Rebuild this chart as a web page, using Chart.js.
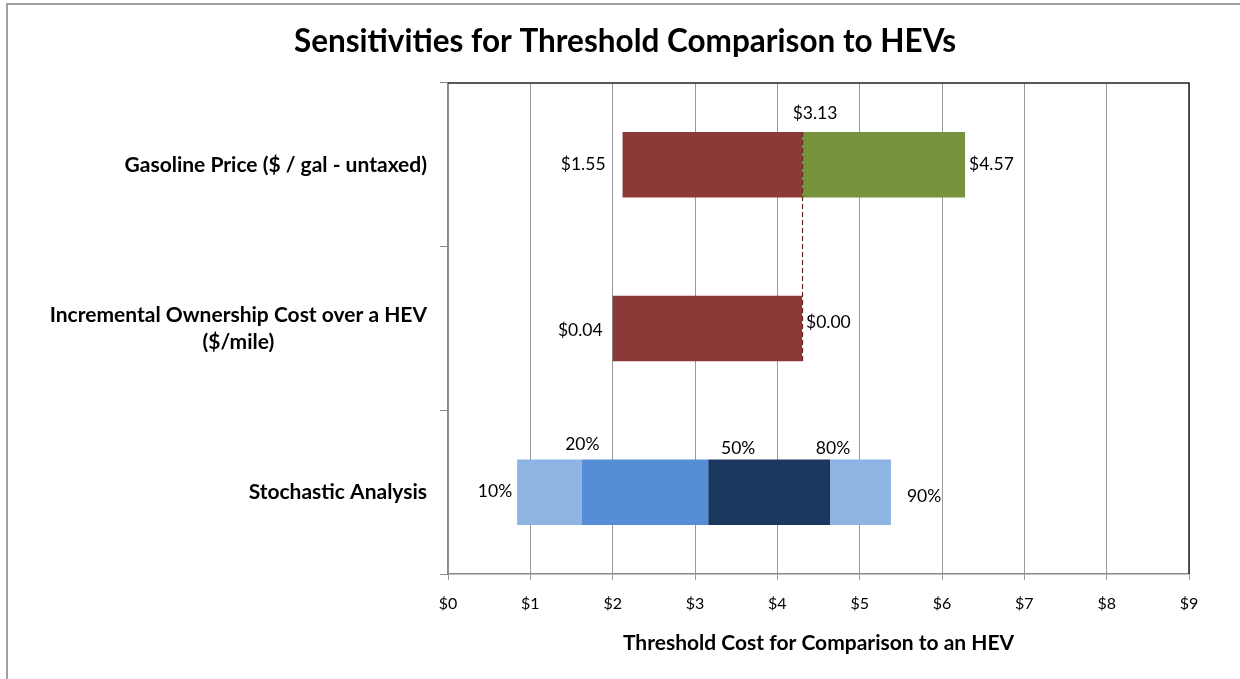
<!DOCTYPE html>
<html>
<head>
<meta charset="utf-8">
<script src="https://cdn.jsdelivr.net/npm/chart.js@4"></script>
<style>
  html, body { margin: 0; padding: 0; background: #fff; }
  #wrap { width: 1240px; height: 679px; }
</style>
</head>
<body>
<div id="wrap"><canvas id="myChart" width="1240" height="679"></canvas></div>
<script>
const categories = [
  'Gasoline Price ($ / gal - untaxed)',
  ['Incremental Ownership Cost over a HEV', '($/mile)'],
  'Stochastic Analysis',
];
const xTicks = [0, 1, 2, 3, 4, 5, 6, 7, 8, 9];
const baseline = 4.30;
const lowEnd = [2.12, 2.00, null];
const highEnd = [6.28, null, null];
const gasolineLabels = ['$1.55', '$3.13', '$4.57'];
const ownershipLabels = ['$0.04', '$0.00'];
const percentiles = ['10%', '20%', '50%', '80%', '90%'];
const percentileCosts = [0.84, 1.62, 3.16, 4.64, 5.38];

const red = '#8C3A38';
const green = '#76923C';
const blues = ['#8EB4E3', '#558ED5', '#1B3760', '#8EB4E3'];
const labelFont = '17.5px Lato';
const catFont = 'bold 21px Lato';

const datasets = [
  {
    label: 'Low',
    data: lowEnd.map(v => (v == null ? null : [v, baseline])),
    backgroundColor: red,
  },
  {
    label: 'High',
    data: highEnd.map(v => (v == null ? null : [baseline, v])),
    backgroundColor: green,
  },
];
for (let i = 0; i < 4; i++) {
  datasets.push({
    label: percentiles[i] + '-' + percentiles[i + 1],
    data: [null, null, [percentileCosts[i], percentileCosts[i + 1]]],
    backgroundColor: blues[i],
  });
}

// frame, dashed baseline, category names and value labels
const extras = {
  id: 'extras',
  beforeDraw(chart) {
    const c = chart.ctx;
    c.save();
    c.strokeStyle = '#A0A0A0';
    c.lineWidth = 2;
    c.beginPath();
    c.moveTo(7, 679);
    c.lineTo(7, 4);
    c.lineTo(1240, 4);
    c.stroke();
    c.restore();
  },
  afterDatasetsDraw(chart) {
    const c = chart.ctx;
    const xs = chart.scales.x;
    const ys = chart.scales.y;
    const a = chart.chartArea;
    const bx = xs.getPixelForValue(baseline);
    c.save();

    // plot frame top / right
    c.strokeStyle = '#222';
    c.lineWidth = 1.5;
    c.beginPath();
    c.moveTo(a.left, a.top);
    c.lineTo(a.right, a.top);
    c.lineTo(a.right, a.bottom);
    c.stroke();

    // dashed baseline
    const half = ys.getPixelForValue(1) - ys.getPixelForValue(0);
    const barH = half * 0.4 / 2;
    c.strokeStyle = '#6E2422';
    c.lineWidth = 1.2;
    c.setLineDash([5, 3]);
    c.beginPath();
    c.moveTo(bx + 0.5, ys.getPixelForValue(0) - barH);
    c.lineTo(bx + 0.5, ys.getPixelForValue(1) + barH);
    c.stroke();
    c.setLineDash([]);

    // category names
    c.fillStyle = '#000';
    c.font = catFont;
    c.textBaseline = 'middle';
    c.textAlign = 'center';
    categories.forEach((cat, i) => {
      const lines = Array.isArray(cat) ? cat : [cat];
      const w = Math.max(...lines.map(l => c.measureText(l).width));
      const cx = a.left - 21 - w / 2;
      const y0 = ys.getPixelForValue(i) - (lines.length - 1) * 13.5;
      lines.forEach((l, k) => c.fillText(l, cx, y0 + k * 27));
    });

    // value labels
    c.font = labelFont;
    const put = (t, x, y, align) => { c.textAlign = align; c.fillText(t, x, y); };
    const y0 = ys.getPixelForValue(0);
    const y1 = ys.getPixelForValue(1);
    const y2 = ys.getPixelForValue(2);
    put(gasolineLabels[0], xs.getPixelForValue(lowEnd[0]) - 17, y0, 'right');
    put(gasolineLabels[1], bx + 13, y0 - 51, 'center');
    put(gasolineLabels[2], xs.getPixelForValue(highEnd[0]) + 4, y0, 'left');
    put(ownershipLabels[0], xs.getPixelForValue(lowEnd[1]) - 10, y1 + 2, 'right');
    put(ownershipLabels[1], bx + 4, y1 - 6, 'left');
    const px = percentileCosts.map(v => xs.getPixelForValue(v));
    put(percentiles[0], px[0] - 5, y2 - 1, 'right');
    put(percentiles[1], px[1] + 1, y2 - 48, 'center');
    put(percentiles[2], px[2] + 30, y2 - 44, 'center');
    put(percentiles[3], px[3] + 3, y2 - 44, 'center');
    put(percentiles[4], px[4] + 16, y2 + 4, 'left');
    c.restore();
  },
};

const ctx = document.getElementById('myChart');
const myChart = new Chart(ctx, {
  type: 'bar',
  data: { labels: categories, datasets: datasets },
  options: {
    indexAxis: 'y',
    responsive: false,
    animation: false,
    layout: { padding: { left: 61, right: 51, top: 0, bottom: 0 } },
    datasets: {
      bar: { grouped: false, barPercentage: 0.4, categoryPercentage: 1 },
    },
    plugins: {
      legend: { display: false },
      tooltip: { enabled: false },
      title: {
        display: true,
        text: 'Sensitivities for Threshold Comparison to HEVs',
        color: '#000',
        font: { family: 'Lato', size: 31.5, weight: 'bold' },
        padding: { top: 23, bottom: 22.2 },
      },
    },
    scales: {
      x: {
        type: 'linear',
        min: xTicks[0],
        max: xTicks[xTicks.length - 1],
        afterBuildTicks: s => { s.ticks = xTicks.map(v => ({ value: v })); },
        afterFit: s => { s.height = 105; },
        ticks: {
          color: '#000',
          font: { family: 'Lato', size: 16 },
          padding: 14.4,
          callback: v => '$' + v,
        },
        grid: { color: '#999', lineWidth: 1, tickLength: 6 },
        border: { color: '#888', width: 1.5 },
        title: {
          display: true,
          text: 'Threshold Cost for Comparison to an HEV',
          color: '#000',
          font: { family: 'Lato', size: 21, weight: 'bold' },
          padding: { top: 0, bottom: 23.4 },
        },
      },
      y: {
        type: 'category',
        offset: true,
        afterFit: s => { s.width = 387; },
        ticks: { callback: () => '' },
        grid: { offset: true, drawOnChartArea: false, tickLength: 8, color: '#888' },
        border: { color: '#888', width: 1.5 },
      },
    },
  },
  plugins: [extras],
});
</script>
</body>
</html>
